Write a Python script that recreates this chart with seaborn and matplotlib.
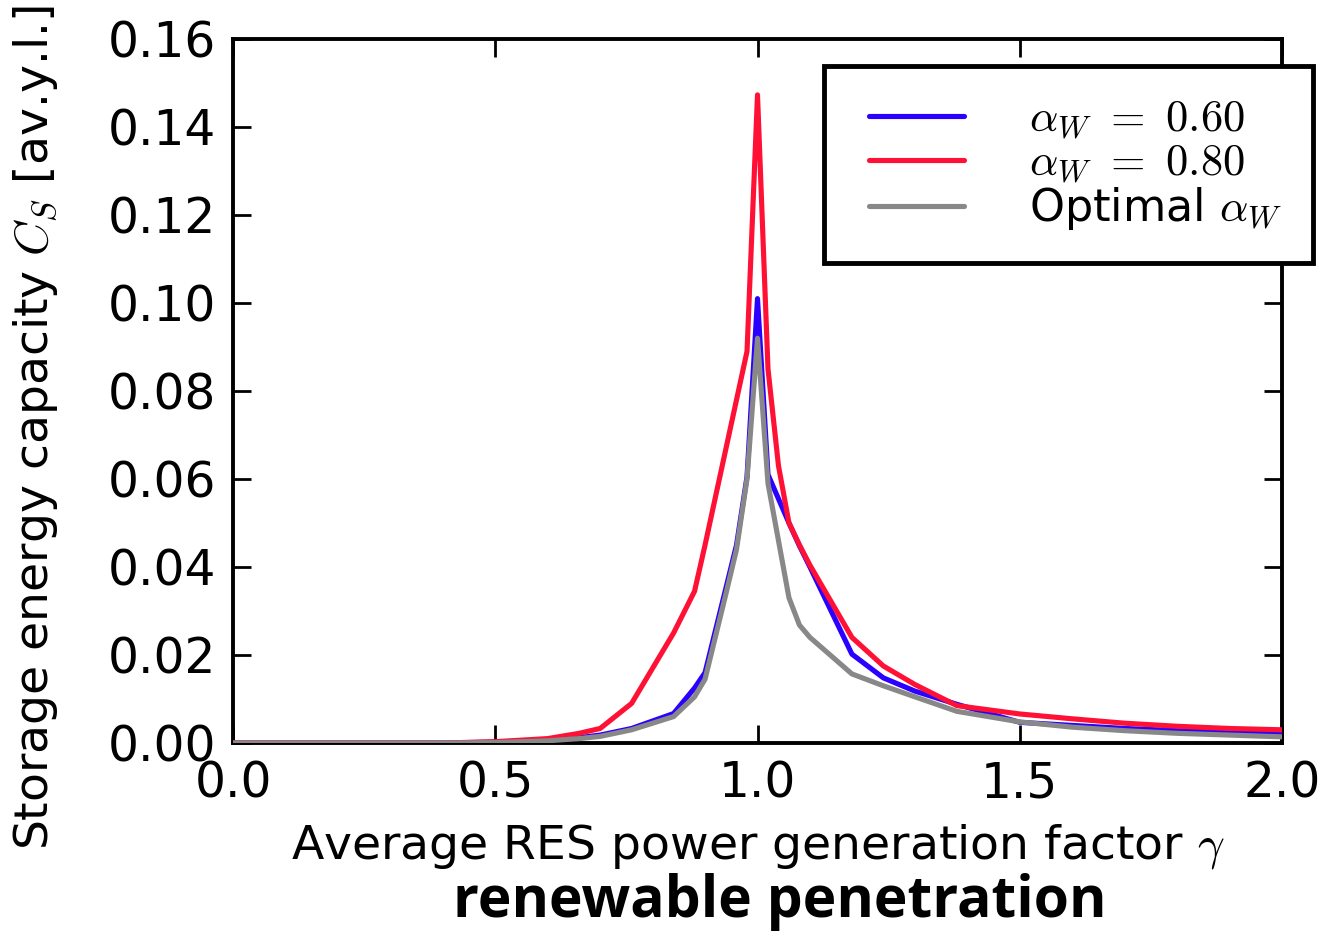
import numpy as np
import pandas as pd
import matplotlib
matplotlib.use("Agg")
import matplotlib.pyplot as plt
from matplotlib.lines import Line2D
from matplotlib.legend_handler import HandlerLine2D
import seaborn as sns

# ---- data ----
gamma = [0.0, 0.1, 0.2, 0.3, 0.4, 0.5, 0.6, 0.66, 0.70, 0.76, 0.84, 0.88, 0.90,
         0.94, 0.96, 0.98, 1.00, 1.02, 1.04, 1.06, 1.08, 1.10, 1.18, 1.24, 1.30,
         1.38, 1.50, 1.60, 1.70, 1.80, 1.90, 2.00]
cs_alpha060 = [0, 0, 0, 0, 0, 0.0002, 0.0007, 0.0012, 0.0018, 0.0033, 0.0067, 0.0125, 0.0160,
               0.0353, 0.0450, 0.0605, 0.1010, 0.0610, 0.0555, 0.0500, 0.0448, 0.0400, 0.0202, 0.0148, 0.0118,
               0.0088, 0.0047, 0.0040, 0.0033, 0.0028, 0.0024, 0.0020]
cs_alpha080 = [0, 0, 0, 0, 0, 0.0003, 0.0010, 0.0022, 0.0033, 0.0090, 0.0250, 0.0345, 0.0450,
               0.0670, 0.0780, 0.0890, 0.1473, 0.0850, 0.0630, 0.0500, 0.0450, 0.0404, 0.0240, 0.0175, 0.0133,
               0.0085, 0.0066, 0.0055, 0.0045, 0.0038, 0.0033, 0.0030]
cs_optimal = [0, 0, 0, 0, 0, 0.0001, 0.0005, 0.0010, 0.0015, 0.0030, 0.0060, 0.0105, 0.0145,
              0.0340, 0.0440, 0.0600, 0.0920, 0.0590, 0.0460, 0.0330, 0.0268, 0.0240, 0.0157, 0.0130, 0.0105,
              0.0072, 0.0048, 0.0036, 0.0028, 0.0022, 0.0018, 0.0014]
series_labels = [r"$\alpha_W\ =\ 0.60$", r"$\alpha_W\ =\ 0.80$", r"Optimal $\alpha_W$"]
series_colors = ["#2a00ff", "#ff1035", "#888888"]
xticks = [0.0, 0.5, 1.0, 1.5, 2.0]
yticks = [0.00, 0.02, 0.04, 0.06, 0.08, 0.10, 0.12, 0.14, 0.16]

sns.set_style("ticks")
plt.rcParams["font.family"] = ["DejaVu Sans"]
plt.rcParams["mathtext.fontset"] = "cm"
plt.rcParams["text.color"] = "black"
plt.rcParams["axes.labelcolor"] = "black"

fig = plt.figure(figsize=(13.3, 9.35), dpi=100)
ax = fig.add_axes([233/1330, 1-743/935, (1282-233)/1330, (743-39)/935])

df = pd.DataFrame({"gamma": gamma * 3,
                   "cs": cs_alpha060 + cs_alpha080 + cs_optimal,
                   "series": [series_labels[0]] * len(gamma) + [series_labels[1]] * len(gamma)
                             + [series_labels[2]] * len(gamma)})

draw_order = [2, 0, 1]
for i in draw_order:
    sub = df[df["series"] == series_labels[i]]
    sns.lineplot(data=sub, x="gamma", y="cs", ax=ax, color=series_colors[i], lw=3.7,
                 label=series_labels[i], zorder=3 + i)

ax.set_xlim(0, 2.0)
ax.set_ylim(0, 0.16)
ax.set_xticks(xticks)
ax.set_yticks(yticks)
ax.set_xticklabels([f"{v:.1f}" for v in xticks])
ax.set_yticklabels([f"{v:.2f}" for v in yticks])
ax.tick_params(direction="in", length=13, width=2, labelsize=35, top=True, right=True,
               color="black", labelcolor="black")
ax.tick_params(axis="y", pad=12)
ax.tick_params(axis="x", pad=12)
for s in ax.spines.values():
    s.set_visible(True)
    s.set_linewidth(2.8)
    s.set_color("black")

ax.set_xlabel(r"Average RES power generation factor $\gamma$", fontsize=34, labelpad=10)
ax.set_ylabel(r"Storage energy capacity $C_S$ [av.y.l.]", fontsize=34)
ax.yaxis.set_label_coords((60 - 233) / 1049, (743 - 428) / 704)

h, l = ax.get_legend_handles_labels()
order = [l.index(s) for s in series_labels]
leg_fs = 32
leg = ax.legend([h[k] for k in order], [l[k] for k in order], loc="upper right",
                bbox_to_anchor=(1.0296, 0.9616), borderaxespad=0, fontsize=leg_fs,
                handlelength=2.45, handletextpad=1.45, labelspacing=0.0, borderpad=0.7,
                frameon=True, fancybox=False, framealpha=1, edgecolor="black",
                handler_map={Line2D: HandlerLine2D(xpad=0.3)})
leg.get_frame().set_linewidth(3.5)
leg.set_zorder(10)

fig.text(780/1330, 1-902/935, "renewable penetration", ha="center", va="center",
         fontsize=41, fontweight="bold", family=["Open Sans", "DejaVu Sans"])

fig.savefig("out.png", dpi=100, facecolor="white")
